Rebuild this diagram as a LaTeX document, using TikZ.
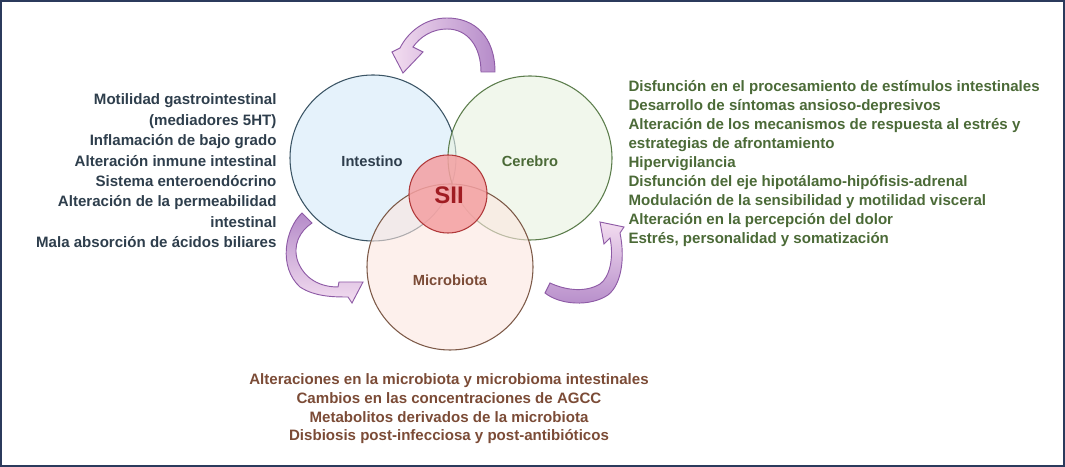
\documentclass[tikz,border=0pt]{standalone}
\usepackage{fontspec}
\setmainfont{Liberation Sans}
\usepackage{tikz}
\usetikzlibrary{positioning,shapes}

\definecolor{frameblue}{HTML}{2B3A5C}
\definecolor{intfill}{HTML}{D3E9F8}
\definecolor{intline}{HTML}{3B5565}
\definecolor{cerfill}{HTML}{E8F2DF}
\definecolor{cerline}{HTML}{5C7D4C}
\definecolor{micfill}{HTML}{FCE6E0}
\definecolor{micline}{HTML}{7D5A48}
\definecolor{siifill}{HTML}{F4A0A2}
\definecolor{siiline}{HTML}{B0393A}
\definecolor{siitext}{HTML}{A01C22}
\definecolor{inttext}{HTML}{2E3E4C}
\definecolor{certext}{HTML}{4B6A37}
\definecolor{mictext}{HTML}{7B4B36}
\definecolor{arrdark}{HTML}{B58BC9}
\definecolor{arrlight}{HTML}{F3DDF0}
\definecolor{arrline}{HTML}{8E5BA6}

\begin{document}
\begin{tikzpicture}[x=0.75pt, y=0.75pt, line width=0.8pt,
    area/.style={circle, draw, fill opacity=0.6, text opacity=1},
    label/.style={font=\bfseries\fontsize{11}{13}\selectfont},
    items/.style={inner sep=0pt, font=\bfseries\fontsize{11.3}{14.25}\selectfont},
    loop/.style={draw=arrline, line width=0.7pt}]
    \useasboundingbox (0,0) rectangle (1065,467);
    \draw[frameblue, line width=1.6pt] (1,1) rectangle (1064,466);

    \node[area, minimum size=166*0.75pt, fill=intfill, draw=intline] (intestino) at (373,309) {};
    \node[area, minimum size=164*0.75pt, fill=cerfill, draw=cerline] (cerebro) at (530,309) {};
    \node[area, minimum size=166*0.75pt, fill=micfill, draw=micline] (microbiota) at (450,200) {};
    \node[area, minimum size=78*0.75pt, fill=siifill, draw=siiline, fill opacity=0.85] (sii) at (448,273) {};

    \node[label, inttext] (intLabel) at (372,306) {Intestino};
    \node[label, certext] (cerLabel) at (530,306) {Cerebro};
    \node[label, mictext] (micLabel) at (450,187) {Microbiota};
    \node[siitext, font=\bfseries\fontsize{18}{20}\selectfont] (siiLabel) at (449,272) {SII};

    \node[items, inttext, anchor=east, align=right, font=\bfseries\fontsize{11.3}{15.3}\selectfont] (intList) at (277,296)
        {Motilidad gastrointestinal\\(mediadores 5HT)\\Inflamación de bajo grado\\Alteración inmune intestinal\\Sistema enteroendócrino\\Alteración de la permeabilidad\\intestinal\\Mala absorción de ácidos biliares};
    \node[items, certext, anchor=west, align=left] (cerList) at (628,303)
        {Disfunción en el procesamiento de estímulos intestinales\\Desarrollo de síntomas ansioso-depresivos\\Alteración de los mecanismos de respuesta al estrés y\\estrategias de afrontamiento\\Hipervigilancia\\Disfunción del eje hipotálamo-hipófisis-adrenal\\Modulación de la sensibilidad y motilidad visceral\\Alteración en la percepción del dolor\\Estrés, personalidad y somatización};
    \node[items, mictext, align=center, font=\bfseries\fontsize{11.3}{14}\selectfont] (micList) at (449,58)
        {Alteraciones en la microbiota y microbioma intestinales\\Cambios en las concentraciones de AGCC\\Metabolitos derivados de la microbiota\\Disbiosis post-infecciosa y post-antibióticos};

    % cerebro -> intestino
    \path[loop, left color=arrlight, right color=arrdark]
        (495,395) .. controls (495,430) and (475,449) .. (447,449)
        .. controls (425,449) and (408,435) .. (400,419) -- (392,415) -- (403,394) -- (423,415) -- (413,420)
        .. controls (420,430) and (432,438) .. (447,438)
        .. controls (468,438) and (481,420) .. (481,395) -- cycle;
    % intestino -> microbiota
    \path[loop, top color=arrdark, bottom color=arrlight]
        (302,254) .. controls (285,238) and (278,200) .. (300,180)
        .. controls (315,170) and (335,170) .. (348,170) -- (352,164) -- (363,185) -- (339,185) -- (338,180)
        .. controls (320,180) and (305,188) .. (298,205)
        .. controls (292,222) and (300,236) .. (312,244) -- cycle;
    % microbiota -> cerebro
    \path[loop, bottom color=arrdark, top color=arrlight]
        (545,174) .. controls (560,162) and (590,160) .. (608,172)
        .. controls (622,183) and (625,210) .. (620,234) -- (624,240) -- (600,245) -- (604,223) -- (610,229)
        .. controls (614,210) and (610,190) .. (600,183)
        .. controls (585,174) and (565,177) .. (550,184) -- cycle;
\end{tikzpicture}
\end{document}
